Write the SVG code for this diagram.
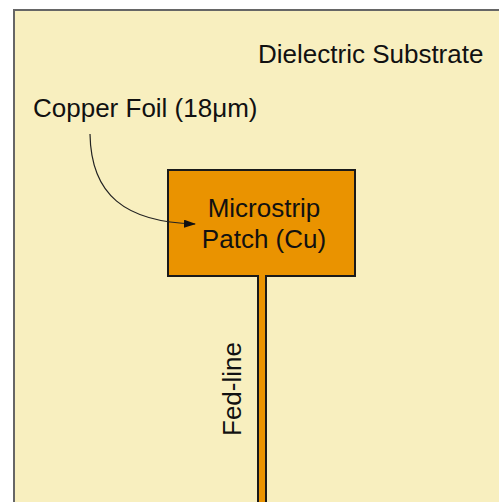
<svg xmlns="http://www.w3.org/2000/svg" width="499" height="502" viewBox="0 0 499 502">
<defs>
<style>
text{font-family:"Liberation Sans",Arial,sans-serif;font-size:26px;fill:#111}
.cu{fill:#EA9300;stroke:#1a1a1a;stroke-width:2}
</style>
<marker id="ah" markerWidth="12" markerHeight="8" refX="11" refY="4" orient="auto" markerUnits="userSpaceOnUse">
<path d="M0,0 L12,4 L0,8 z" fill="#111"/>
</marker>
</defs>
<rect width="499" height="502" fill="#fff"/>
<g id="substrate">
<rect x="14" y="10" width="520" height="520" fill="#F8EFBF" stroke="#666" stroke-width="2"/>
<text x="258" y="63">Dielectric Substrate</text>
</g>
<g id="feedline">
<rect class="cu" x="258" y="268" width="8" height="250"/>
<text transform="translate(241,389) rotate(-90)" text-anchor="middle">Fed-line</text>
</g>
<g id="patch">
<rect class="cu" x="168" y="170" width="187" height="106"/>
<rect x="259" y="272" width="6" height="6" fill="#EA9300"/>
<text x="264" y="217" text-anchor="middle">Microstrip</text>
<text x="264" y="248" text-anchor="middle">Patch (Cu)</text>
</g>
<g id="label-copper">
<text x="33" y="117">Copper Foil (18μm)</text>
</g>
<g id="connectors">
<path d="M90,134 C91,195 125,222 195,224" fill="none" stroke="#222" stroke-width="1.2" marker-end="url(#ah)"/>
</g>
</svg>
